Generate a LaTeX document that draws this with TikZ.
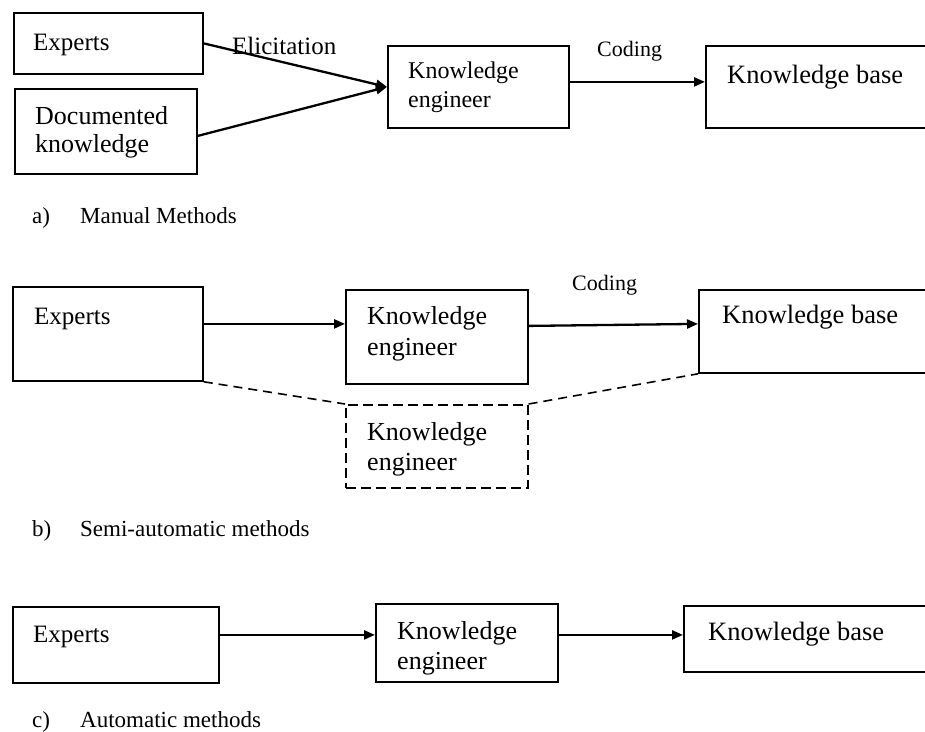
\documentclass[tikz,border=0pt]{standalone}
\usepackage{fontspec}
\setmainfont{Liberation Serif}
\usetikzlibrary{arrows.meta}
\begin{document}
\begin{tikzpicture}[x=1pt,y=-1pt,
  box/.style={draw, line width=1.8pt, rectangle, inner sep=0pt, anchor=north west},
  dbox/.style={box, line width=1.6pt, dash pattern=on 10pt off 5pt},
  txt/.style={anchor=base west, inner sep=0pt, font=\fontsize{#1}{#1}\selectfont},
  arr/.style={line width=2.3pt, -{Triangle[length=11pt,width=9pt]}},
  dline/.style={line width=1.6pt, dash pattern=on 9pt off 6pt}]
\useasboundingbox (0,0) rectangle (925,731);

% ---------- a) manual methods ----------
\node[box, minimum width=189pt, minimum height=61pt] (expA) at (13,12) {};
\node[box, minimum width=182pt, minimum height=85pt] (docA) at (14,88) {};
\node[box, minimum width=181pt, minimum height=82pt] (keA) at (387,45) {};
\node[box, minimum width=225pt, minimum height=82pt] (kbA) at (705,45) {};

\node[txt=25] (tExpA) at (33,50) {Experts};
\node[txt=26] (tDocA1) at (35,124) {Documented};
\node[txt=26] (tDocA2) at (35,152) {knowledge};
\node[txt=24] (tKeA1) at (408,78) {Knowledge};
\node[txt=24] (tKeA2) at (408,107) {engineer};
\node[txt=26.5] (tKbA) at (727,83) {Knowledge base};
\node[txt=25] (tElic) at (232,54) {Elicitation};
\node[txt=22] (tCodA) at (597,56) {Coding};

\draw[arr] (expA.east) -- (keA.west);
\draw[arr] ([yshift=-4.5pt]docA.east) -- (keA.west);
\draw[arr] ([yshift=5pt]keA.east) -- ([yshift=5pt]kbA.west);

\node[txt=23] (la) at (32,223) {a)};
\node[txt=23] (lA) at (80,223) {Manual Methods};

% ---------- b) semi-automatic methods ----------
\node[box, minimum width=190pt, minimum height=94pt] (expB) at (12,286) {};
\node[box, minimum width=182pt, minimum height=94pt] (keB) at (345,289) {};
\node[dbox, minimum width=182pt, minimum height=83pt] (keD) at (345,404) {};
\node[box, minimum width=232pt, minimum height=83pt] (kbB) at (698,289) {};

\node[txt=25] (tExpB) at (34,324) {Experts};
\node[txt=26] (tKeB1) at (367,324) {Knowledge};
\node[txt=26] (tKeB2) at (367,355) {engineer};
\node[txt=26] (tKeD1) at (367,440) {Knowledge};
\node[txt=26] (tKeD2) at (367,470) {engineer};
\node[txt=26.5] (tKbB) at (722,323) {Knowledge base};
\node[txt=22] (tCodB) at (572,290) {Coding};

\draw[arr] ([yshift=10pt]expB.east) -- ([yshift=13pt]keB.west);
\draw[arr] ([yshift=11pt]keB.east) -- ([yshift=7.5pt]kbB.west);
\draw[dline] (expB.south east) -- (keD.north west);
\draw[dline] (keD.north east) -- (kbB.south west);

\node[txt=23] (lb) at (32,536) {b)};
\node[txt=23] (lB) at (80,536) {Semi-automatic methods};

% ---------- c) automatic methods ----------
\node[box, minimum width=206pt, minimum height=76pt] (expC) at (12,606) {};
\node[box, minimum width=182pt, minimum height=78pt] (keC) at (375,603) {};
\node[box, minimum width=247pt, minimum height=66pt] (kbC) at (683,605) {};

\node[txt=25] (tExpC) at (33,642) {Experts};
\node[txt=26] (tKeC1) at (397,639) {Knowledge};
\node[txt=26] (tKeC2) at (397,669) {engineer};
\node[txt=26.5] (tKbC) at (708,640) {Knowledge base};

\draw[arr] ([yshift=10pt]expC.east) -- ([yshift=8pt]keC.west);
\draw[arr] ([yshift=8pt]keC.east) -- ([yshift=4pt]kbC.west);

\node[txt=23] (lc) at (32,727) {c)};
\node[txt=23] (lC) at (80,727) {Automatic methods};
\end{tikzpicture}
\end{document}
